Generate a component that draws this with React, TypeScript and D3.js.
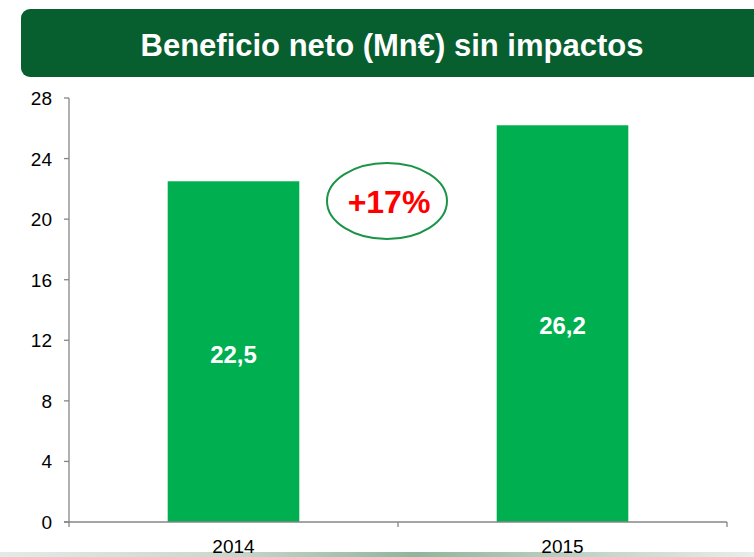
import React from "react";
import * as d3 from "d3";

const years = ["2014", "2015"];
const profit = [22.5, 26.2];
const profitLabels = ["22,5", "26,2"];
const yTicks = [0, 4, 8, 12, 16, 20, 24, 28];
const title = "Beneficio neto (Mn€) sin impactos";
const growthLabel = "+17%";

const W = 754;
const H = 557;
const font = "Liberation Sans, Arial, sans-serif";

export default function App() {
  const x0 = 69;
  const x1 = 727;
  const y0 = 522;
  const y1 = 98;

  const x = d3.scaleBand().domain(years).range([x0, x1]).paddingInner(0.6).paddingOuter(0.3);
  const y = d3.scaleLinear().domain([0, 28]).range([y0, y1]);

  // category boundaries for x-axis ticks
  const step = (x1 - x0) / years.length;
  const xTickPos = d3.range(years.length + 1).map((i) => x0 + i * step);

  return (
    <svg
      width={W}
      height={H}
      style={{ position: "absolute", left: 0, top: 0, background: "#fff" }}
      fontFamily={font}
    >
      <defs>
        <linearGradient id="strip" x1="0" x2="1" y1="0" y2="0">
          <stop offset="0" stopColor="#e4ebe6" />
          <stop offset="0.3" stopColor="#c9d8cd" />
          <stop offset="0.55" stopColor="#8fb59c" />
          <stop offset="0.8" stopColor="#c5d6ca" />
          <stop offset="1" stopColor="#e8eee9" />
        </linearGradient>
      </defs>

      {/* title banner */}
      <rect x={21} y={9} width={W + 20} height={68} rx={9} fill="#075E2E" />
      <text x={392} y={56} textAnchor="middle" fill="#fff" fontSize={31} fontWeight="bold">
        {title}
      </text>

      {/* bottom decorative strip */}
      <rect x={0} y={552} width={W} height={5} fill="url(#strip)" />

      {/* bars */}
      {years.map((yr, i) => (
        <g key={yr}>
          <rect
            x={x(yr)}
            y={y(profit[i])}
            width={x.bandwidth()}
            height={y0 - y(profit[i])}
            fill="#00B050"
          />
          <text
            x={(x(yr) as number) + x.bandwidth() / 2}
            y={i === 0 ? 363 : 334}
            textAnchor="middle"
            fill="#fff"
            fontSize={24}
            fontWeight="bold"
          >
            {profitLabels[i]}
          </text>
          <text x={x0 + step * (i + 0.5)} y={553} textAnchor="middle" fill="#000" fontSize={19}>
            {yr}
          </text>
        </g>
      ))}

      {/* y axis */}
      <line x1={x0} x2={x0} y1={y1} y2={y0} stroke="#868686" strokeWidth={1.3} />
      {yTicks.map((t) => (
        <g key={t}>
          <line x1={x0 - 5} x2={x0} y1={y(t)} y2={y(t)} stroke="#868686" strokeWidth={1.3} />
          <text x={52} y={y(t) + 7} textAnchor="end" fill="#000" fontSize={19}>
            {t}
          </text>
        </g>
      ))}

      {/* x axis */}
      <line x1={x0 - 5} x2={x1} y1={y0} y2={y0} stroke="#868686" strokeWidth={1.3} />
      {xTickPos.map((p, i) => (
        <line key={i} x1={p} x2={p} y1={y0} y2={y0 + 5} stroke="#868686" strokeWidth={1.3} />
      ))}

      {/* growth callout */}
      <ellipse cx={387} cy={201} rx={60} ry={38} fill="#fff" stroke="#1A9447" strokeWidth={2} />
      <text x={389} y={213} textAnchor="middle" fill="#FF0000" fontSize={32} fontWeight="bold">
        {growthLabel}
      </text>
    </svg>
  );
}
